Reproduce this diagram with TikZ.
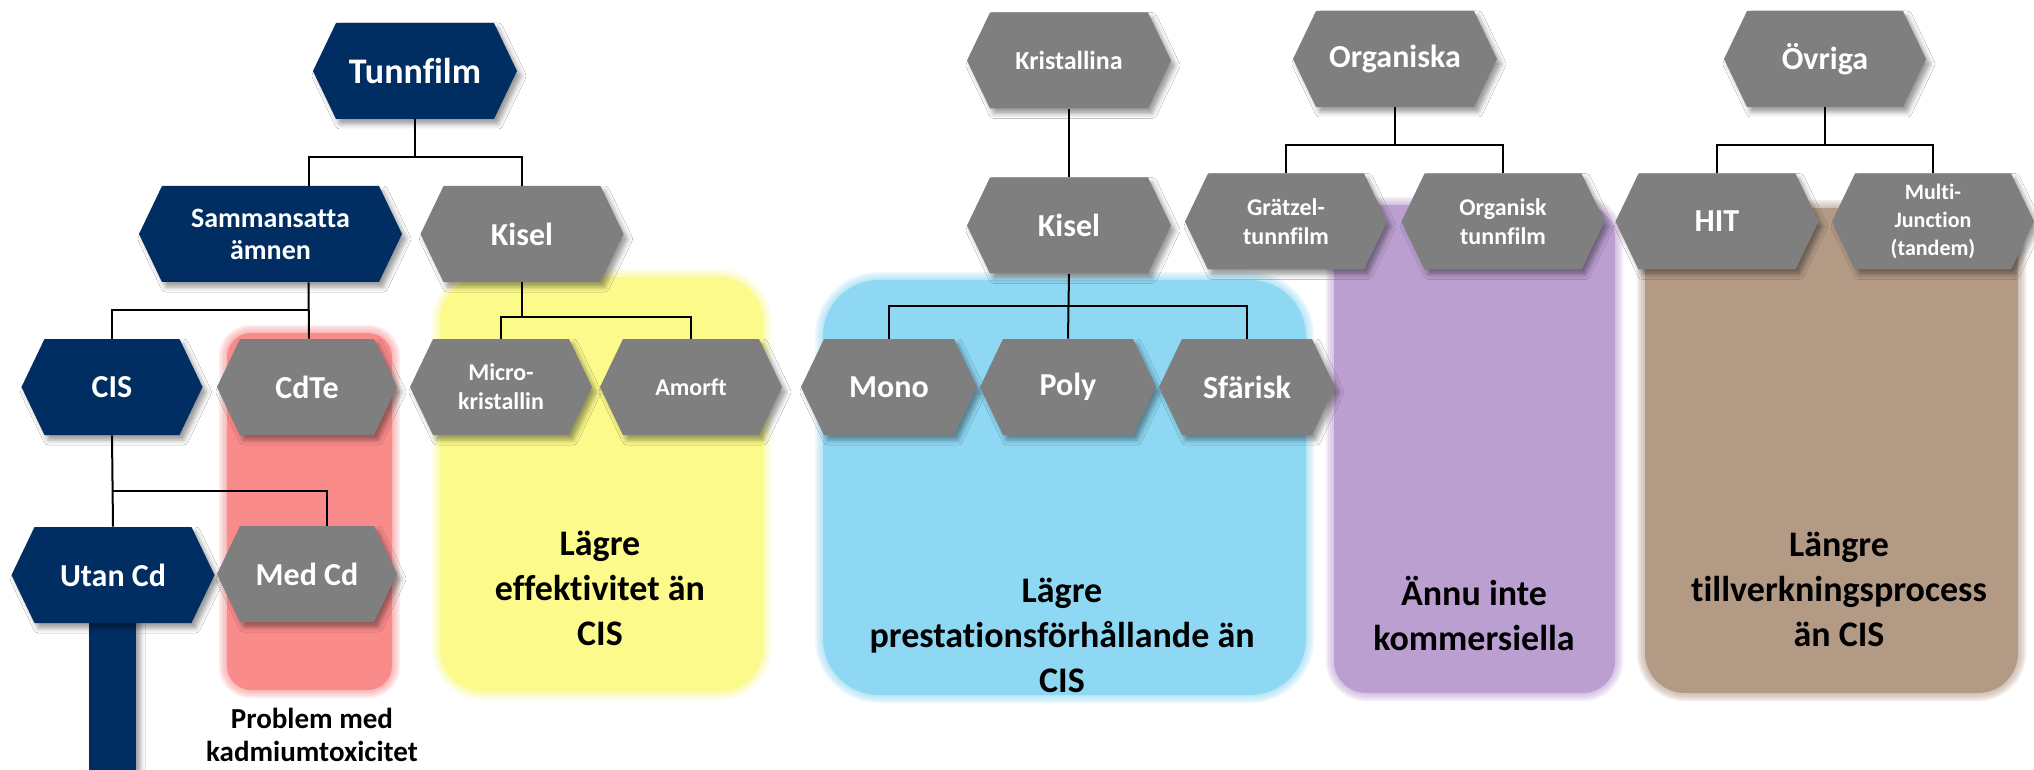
\documentclass[tikz,border=0pt]{standalone}
\usepackage{fontspec}
\setmainfont{Carlito}[Ligatures=NoCommon]
\usetikzlibrary{shadows.blur}
\definecolor{navy}{HTML}{002E63}
\definecolor{hexgray}{HTML}{7F7F7F}
\definecolor{hlpink}{HTML}{FA8B8B}
\definecolor{hlyellow}{HTML}{FCFA8A}
\definecolor{hlblue}{HTML}{8ED8F3}
\definecolor{hlpurple}{HTML}{BB9FD1}
\definecolor{hlbrown}{HTML}{B29A84}
\newcommand\szA{\fontsize{18}{22}\selectfont}
\newcommand\szB{\fontsize{16}{19}\selectfont}
\newcommand\szC{\fontsize{14}{16}\selectfont}
\newcommand\szD{\fontsize{13}{15}\selectfont}
\newcommand\szE{\fontsize{12}{14.5}\selectfont}
\newcommand\szF{\fontsize{11}{14}\selectfont}
\tikzset{
  hexshadow/.style={blur shadow={shadow xshift=2pt,shadow yshift=-2.5pt,shadow blur radius=2.5pt,shadow opacity=40}},
  hexlabel/.style={shape=rectangle,draw=none,inner sep=0pt,minimum height=48pt,text=white,align=center},
  conn/.style={draw=black,line width=1pt},
  hltext/.style={font=\fontsize{18}{22.5}\selectfont\bfseries,align=center,inner sep=0pt,text=black},
  probtext/.style={font=\fontsize{14.5}{16.8}\selectfont\bfseries,align=center,inner sep=0pt,text=black},
}
% #1 name, #2 cx, #3 cy, #4 width (px), #5 colour, #6 font, #7 text
\newcommand\hexnode[7]{%
  \fill[#5,hexshadow] ({#2-#4/2},#3) -- ({#2-#4/2+23},{#3-48}) -- ({#2+#4/2-23},{#3-48}) -- ({#2+#4/2},#3) -- ({#2+#4/2-23},{#3+48}) -- ({#2-#4/2+23},{#3+48}) -- cycle;
  \node[hexlabel,font={#6\bfseries},minimum width={#4*0.5pt}] (#1) at (#2,#3) {#7};
}
% #1 colour, #2 x1, #3 y1, #4 x2, #5 y2, #6 radius (pt)
\newcommand\glowbox[6]{%
  \foreach \e in {8,6,4,2}{%
    \fill[#1,opacity=0.18,rounded corners={#6+\e*0.5pt}] ({#2-\e},{#3-\e}) rectangle ({#4+\e},{#5+\e});
  }
  \fill[#1,rounded corners=#6] (#2,#3) rectangle (#4,#5);
}
\begin{document}
\begin{tikzpicture}[x=0.5pt,y=-0.5pt]
\useasboundingbox[fill=white] (0,0) rectangle (2034,770);

% highlight areas
\glowbox{hlpink}{227}{333}{392}{690}{12pt}
\glowbox{hlyellow}{440}{277}{763}{692}{22pt}
\glowbox{hlblue}{823}{280}{1306}{695}{28pt}
\glowbox{hlpurple}{1334}{205}{1615}{693}{16pt}
\glowbox{hlbrown}{1645}{208}{2018}{693}{20pt}

% thick bar below Utan Cd
\fill[navy,hexshadow] (89,600) rectangle (136,790);

% hexagon nodes
\hexnode{tunn}{415}{71}{204}{navy}{\szA}{Tunnfilm}
\hexnode{samm}{270.5}{234}{263}{navy}{\szC}{Sammansatta\\ämnen}
\hexnode{kisL}{522}{234}{203}{hexgray}{\szB}{Kisel}
\hexnode{cis}{112}{387}{181}{navy}{\szB}{CIS}
\hexnode{cdte}{307}{387}{180}{hexgray}{\szB}{CdTe}
\hexnode{micro}{501}{387}{182}{hexgray}{\szE}{Micro-\\kristallin}
\hexnode{amorft}{691}{387}{182}{hexgray}{\szE}{Amorft}
\hexnode{mono}{889}{387}{176}{hexgray}{\szB}{Mono}
\hexnode{poly}{1068}{387}{176}{hexgray}{\szB}{Poly}
\hexnode{sfar}{1247}{387}{176}{hexgray}{\szB}{Sfärisk}
\hexnode{utan}{113}{575}{203}{navy}{\szB}{Utan Cd}
\hexnode{medcd}{307}{574}{180}{hexgray}{\szB}{Med Cd}
\hexnode{krist}{1069}{60.5}{204}{hexgray}{\szD}{Kristallina}
\hexnode{kisR}{1069}{225.5}{204}{hexgray}{\szB}{Kisel}
\hexnode{organ}{1395}{59}{204}{hexgray}{\szB}{Organiska}
\hexnode{gratz}{1286}{221.5}{202}{hexgray}{\szE}{Grätzel-\\tunnfilm}
\hexnode{orgtf}{1503}{221.5}{203}{hexgray}{\szE}{Organisk\\tunnfilm}
\hexnode{ovr}{1825}{59}{202}{hexgray}{\szB}{Övriga}
\hexnode{hit}{1717}{221.5}{203}{hexgray}{\szB}{HIT}
\hexnode{multi}{1933}{221.5}{202}{hexgray}{\szF}{Multi-\\Junction\\(tandem)}

% bus coordinates
\coordinate (b1) at (415,157);
\coordinate (b2) at (309,310);
\coordinate (b3) at (522,317);
\coordinate (b4) at (1069,306);
\coordinate (b5) at (1395,145);
\coordinate (b6) at (1825,145);
\coordinate (b7) at (112,491);

% connectors
\draw[conn] (tunn.south) -- (b1);
\draw[conn] ([xshift=19pt]samm.north) |- (b1) -| (kisL.north);
\draw[conn] ([xshift=19pt]samm.south) -- ([xshift=1pt]cdte.north);
\draw[conn] (cis.north) |- (b2);
\draw[conn] (kisL.south) -- (b3);
\draw[conn] (micro.north) |- (b3) -| (amorft.north);
\draw[conn] (krist.south) -- (kisR.north);
\draw[conn] (kisR.south) -- (poly.north);
\draw[conn] (mono.north) |- (b4) -| (sfar.north);
\draw[conn] (organ.south) -- (b5);
\draw[conn] (gratz.north) |- (b5) -| (orgtf.north);
\draw[conn] (ovr.south) -- (b6);
\draw[conn] (hit.north) |- (b6) -| (multi.north);
\draw[conn] (cis.south) -- (utan.north);
\draw[conn] (b7) -| ([xshift=10pt]medcd.north);

% texts
\node[hltext] (ytxt) at (600,588) {Lägre\\effektivitet än\\CIS};
\node[hltext] (btxt) at (1062,635) {Lägre\\prestationsförhållande än\\CIS};
\node[hltext] (ptxt) at (1474,613) {Ännu inte\\kommersiella};
\node[hltext] (brtxt) at (1839,589) {Längre\\tillverkningsprocess\\än CIS};
\node[probtext] (prob) at (312,735) {Problem med\\kadmiumtoxicitet};
\end{tikzpicture}
\end{document}
